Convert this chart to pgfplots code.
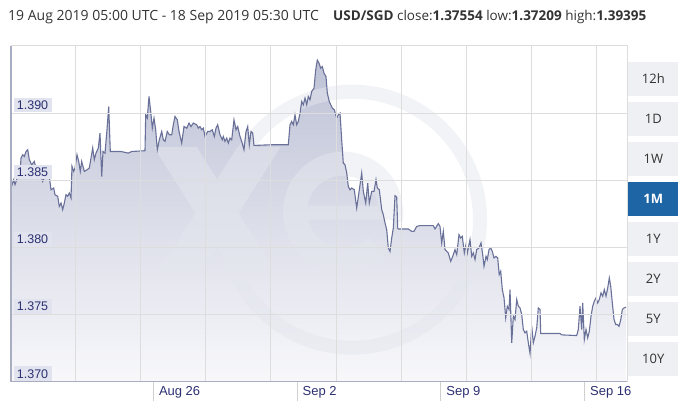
\documentclass[border=0pt]{standalone}
\usepackage{pgfplots}
\pgfplotsset{compat=1.18}
\usepackage{pgfplotstable}
\usepackage{fontspec}
\setmainfont{Liberation Sans}
\newfontfamily\osans{Open Sans}
\definecolor{gridc}{HTML}{DDDDDD}
\definecolor{axisc}{HTML}{A9ADC2}
\definecolor{linec}{HTML}{6A7199}
\definecolor{filltop}{HTML}{BEC2D6}
\definecolor{fillbot}{HTML}{F8F8FB}
\definecolor{lblbg}{HTML}{E1E3EF}
\definecolor{lbltxt}{HTML}{2B3070}
\definecolor{btn}{HTML}{EFF0F3}
\definecolor{btnsel}{HTML}{1E65A5}
\definecolor{txt}{HTML}{333333}
\definecolor{tickc}{HTML}{D0D0D0}
\definecolor{ringc}{HTML}{E5E7EE}
\pgfplotstableread{
d v
0.068 1.38442
0.200 1.38504
0.263 1.38467
0.395 1.38528
0.521 1.38578
0.555 1.38665
0.638 1.38690
0.716 1.38677
0.799 1.38714
0.882 1.38727
0.960 1.38653
1.076 1.38615
1.203 1.38640
1.286 1.38591
1.447 1.38566
1.612 1.38491
1.690 1.38516
1.822 1.38541
1.934 1.38528
2.017 1.38429
2.148 1.38442
2.211 1.38392
2.343 1.38380
2.421 1.38305
2.504 1.38330
2.586 1.38281
2.664 1.38330
2.747 1.38392
2.830 1.38380
2.908 1.38405
2.991 1.38368
3.039 1.38603
3.122 1.38566
3.186 1.38591
3.283 1.38690
3.366 1.38640
3.444 1.38566
3.512 1.38640
3.639 1.38566
3.770 1.38578
3.882 1.38591
3.965 1.38665
4.048 1.38740
4.126 1.38653
4.208 1.38702
4.321 1.38740
4.403 1.38851
4.486 1.38528
4.549 1.38714
4.647 1.38702
4.744 1.38876
4.827 1.39049
4.905 1.38714
5.426 1.38714
5.782 1.38702
5.947 1.38714
6.595 1.38720
6.629 1.38987
6.707 1.38963
6.790 1.39124
6.873 1.39012
6.951 1.38888
7.034 1.38963
7.116 1.38876
7.194 1.38727
7.292 1.38801
7.409 1.38863
7.487 1.38801
7.569 1.38789
7.681 1.38863
7.779 1.38839
7.896 1.38839
7.974 1.38913
8.057 1.38975
8.169 1.38950
8.252 1.38863
8.383 1.38777
8.495 1.38900
8.627 1.38888
8.739 1.38926
8.836 1.38900
8.948 1.38926
9.114 1.38913
9.192 1.38888
9.274 1.38900
9.357 1.38876
9.435 1.38888
9.518 1.38826
9.649 1.38863
9.761 1.38863
9.873 1.38876
9.971 1.38826
10.054 1.38888
10.136 1.38913
10.248 1.38839
10.360 1.38801
10.409 1.38826
10.492 1.38789
10.575 1.38814
10.653 1.38777
10.736 1.38814
10.818 1.38801
10.930 1.38950
11.028 1.38876
11.111 1.38900
11.223 1.38826
11.305 1.38789
11.417 1.38727
11.515 1.38863
11.598 1.38900
11.676 1.38764
11.758 1.38863
11.841 1.38851
11.904 1.38759
12.684 1.38764
13.575 1.38764
13.658 1.38913
13.741 1.38938
13.819 1.38913
13.902 1.38987
13.984 1.38913
14.062 1.38938
14.145 1.39000
14.228 1.39086
14.306 1.39062
14.389 1.39112
14.472 1.39062
14.549 1.39124
14.632 1.39099
14.715 1.39161
14.827 1.39186
14.910 1.39322
14.988 1.39395
15.070 1.39372
15.153 1.39335
15.231 1.39347
15.314 1.39298
15.411 1.39272
15.475 1.39149
15.572 1.39086
15.719 1.39037
15.816 1.39025
15.933 1.38963
16.011 1.38987
16.094 1.39000
16.176 1.38801
16.254 1.38628
16.337 1.38615
16.420 1.38554
16.498 1.38454
16.580 1.38429
16.663 1.38442
16.790 1.38429
16.907 1.38293
17.034 1.38429
17.151 1.38554
17.229 1.38417
17.346 1.38330
17.443 1.38479
17.521 1.38330
17.638 1.38417
17.750 1.38417
17.847 1.38504
17.911 1.38442
18.008 1.38429
18.125 1.38281
18.203 1.38243
18.286 1.38182
18.368 1.38132
18.446 1.37996
18.529 1.37970
18.612 1.38070
18.690 1.38144
18.773 1.38385
18.855 1.38375
18.904 1.38144
18.933 1.38137
19.420 1.38137
19.586 1.38119
19.698 1.38119
19.829 1.38156
19.990 1.38162
20.638 1.38162
20.721 1.38137
20.882 1.38177
20.964 1.38156
21.047 1.38033
21.125 1.38119
21.208 1.37983
21.291 1.37970
21.369 1.37958
21.486 1.37896
21.583 1.37933
21.695 1.37983
21.778 1.37946
21.890 1.38095
21.973 1.38070
22.051 1.38082
22.148 1.37958
22.231 1.38020
22.294 1.37958
22.426 1.38057
22.509 1.37933
22.587 1.37958
22.670 1.37909
22.752 1.37983
22.864 1.37996
22.962 1.38033
23.044 1.37946
23.108 1.37859
23.205 1.37933
23.268 1.37909
23.351 1.37983
23.434 1.37996
23.512 1.37970
23.595 1.37921
23.692 1.37933
23.775 1.37921
23.848 1.37797
23.921 1.37822
24.000 1.37685
24.083 1.37624
24.165 1.37475
24.243 1.37561
24.326 1.37537
24.375 1.37685
24.458 1.37289
24.536 1.37487
24.618 1.37462
24.701 1.37611
24.779 1.37561
24.862 1.37549
24.945 1.37499
25.023 1.37388
25.105 1.37363
25.188 1.37375
25.266 1.37289
25.349 1.37209
25.432 1.37412
25.510 1.37289
25.592 1.37338
25.675 1.37400
25.753 1.37549
25.836 1.37537
25.870 1.37358
26.810 1.37358
26.892 1.37348
27.623 1.37343
27.701 1.37388
27.784 1.37561
27.866 1.37388
27.915 1.37586
27.993 1.37313
28.076 1.37388
28.159 1.37326
28.237 1.37375
28.320 1.37487
28.402 1.37561
28.480 1.37598
28.563 1.37624
28.646 1.37586
28.724 1.37611
28.807 1.37661
28.890 1.37636
28.968 1.37685
29.051 1.37636
29.134 1.37698
29.211 1.37772
29.280 1.37710
29.358 1.37586
29.441 1.37462
29.524 1.37425
29.602 1.37425
29.685 1.37412
29.768 1.37462
29.846 1.37537
29.929 1.37549
30.026 1.37554
}\rates
\begin{document}
\begin{tikzpicture}
\useasboundingbox (0,0) rectangle (688pt,409pt);
\begin{axis}[
  at={(11pt,27.4pt)}, anchor=south west,
  scale only axis, width=616pt, height=335.6pt,
  xmin=0.068, xmax=30.073, ymin=1.370, ymax=1.395,
  axis on top,
  axis line style={gridc, line width=1pt},
  tick style={draw=none},
  xtick={7,14,21,28}, xticklabels={Aug 26,Sep 2,Sep 9,Sep 16},
  minor xtick={3.234,6.400,9.566,12.732,15.899,19.065,22.231,25.397,28.563},
  xminorgrids=true, xmajorgrids=false, ymajorgrids=true,
  grid style={gridc, line width=1pt}, minor grid style={gridc, line width=1pt},
  ytick={1.370,1.375,1.380,1.385,1.390},
  yticklabels={1.370,1.375,1.380,1.385,1.390},
  xticklabel style={anchor=west, inner sep=0pt, xshift=5.5pt, yshift=-10.5pt,
     font=\fontsize{13}{15}\selectfont, text=lbltxt},
  yticklabel style={anchor=south west, xshift=2.3pt, yshift=0.6pt, fill=lblbg,
     inner xsep=3.4pt, inner ysep=0pt, minimum height=14.4pt, text height=9pt,
     text depth=0pt, font=\fontsize{12.5}{14}\selectfont, text=lbltxt},
]
\addplot[draw=none, top color=filltop, bottom color=fillbot] table[x=d,y=v] {\rates}
  -- (axis cs:30.026,1.370) -- (axis cs:0.068,1.370) -- cycle;
% faint xe watermark (ring, x, e) as one union path
\fill[ringc, fill opacity=0.5]
  (axis cs:16.678,1.38206) circle[radius=135pt]
  (axis cs:16.678,1.38206) ++(121pt,0pt) arc[start angle=0, end angle=-360, radius=121pt]
  (axis cs:7.009,1.38749) -- (axis cs:11.101,1.37760) -- (axis cs:13.195,1.37760) -- (axis cs:9.104,1.38749) -- cycle
  (axis cs:11.101,1.38749) -- (axis cs:7.009,1.37760) -- (axis cs:9.104,1.37760) -- (axis cs:13.195,1.38749) -- cycle
  (axis cs:16.240,1.38266) ++(-10:60pt) arc[start angle=-10, end angle=315, radius=60pt]
     -- ++(135:24pt) arc[start angle=315, end angle=-10, radius=36pt] -- cycle
  (axis cs:14.486,1.38206) -- (axis cs:19.162,1.38206) -- (axis cs:19.162,1.38310) -- (axis cs:14.486,1.38310) -- cycle;
\addplot[linec, line width=1.1pt] table[x=d,y=v] {\rates};
\end{axis}
\begin{scope}[x=1pt, y=-1pt, yshift=409pt]
  \draw[axisc, line width=1.2pt] (11,46) -- (11,381.6) -- (627,381.6);
  \foreach \tx in {153.3,297.0,440.7,584.4}
    \draw[tickc, line width=1pt] (\tx,382) -- (\tx,401.5);
  \node[anchor=base west, inner sep=0pt, text=txt, font=\osans\fontsize{14}{16}\selectfont]
    at (8,21) {19 Aug 2019 05:00 UTC - 18 Sep 2019 05:30 UTC};
  \node[anchor=base west, inner sep=0pt, text=txt, font=\osans\fontsize{13.5}{16}\selectfont]
    at (333,21) {\textbf{USD/SGD} close:\textbf{1.37554} low:\textbf{1.37209} high:\textbf{1.39395}};
  \foreach \lab [count=\i from 0] in {12h,1D,1W,1M,1Y,2Y,5Y,10Y} {
    \ifnum\i=3
      \fill[btnsel] (628.3,62.3+40*\i) rectangle ++(50,33.3);
      \node[text=white, font=\osans\bfseries\fontsize{13}{15}\selectfont] at (653.3,79+40*\i) {\lab};
    \else
      \fill[btn] (628.3,62.3+40*\i) rectangle ++(50,33.3);
      \node[text=txt, font=\osans\fontsize{13}{15}\selectfont] at (653.3,79+40*\i) {\lab};
    \fi
  }
\end{scope}
\end{tikzpicture}
\end{document}
